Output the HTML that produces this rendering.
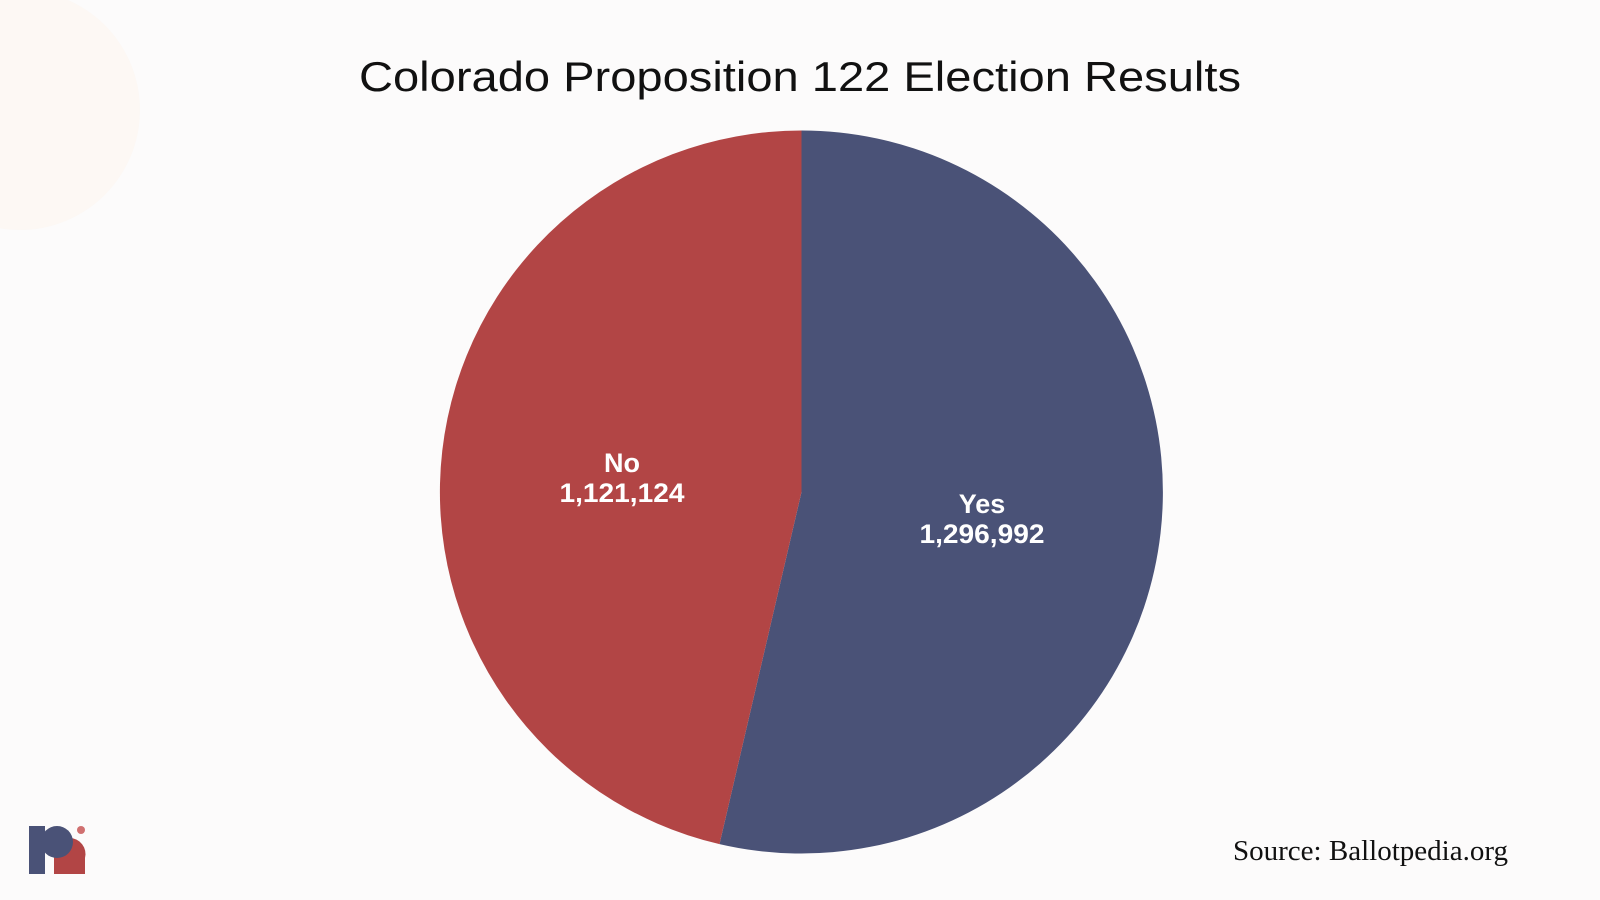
<!DOCTYPE html>
<html><head><meta charset="utf-8"><style>
html,body{margin:0;padding:0}
body{width:1600px;height:900px;background:#fcfbfb;overflow:hidden;position:relative}
</style></head><body>
<svg width="1600" height="900" viewBox="0 0 1600 900" xmlns="http://www.w3.org/2000/svg" style="position:absolute;left:0;top:0">
<rect width="1600" height="900" fill="#fcfbfb"/>
<circle cx="20" cy="110" r="120" fill="#fdf6ee" opacity="0.5"/>
<text x="800" y="91" text-anchor="middle" font-family="Liberation Sans, sans-serif" font-size="42" fill="#111" textLength="882" lengthAdjust="spacingAndGlyphs">Colorado Proposition 122 Election Results</text>
<path d="M801.5,492 L801.5,130.5 A361.5,361.5 0 1 1 719.5,844.1 Z" fill="#4a5277"/>
<path d="M801.5,492 L719.5,844.1 A361.5,361.5 0 0 1 801.5,130.5 Z" fill="#b24545"/>
<g font-family="Liberation Sans, sans-serif" font-weight="bold" font-size="27" fill="#fff" text-anchor="middle">
<text x="622" y="472">No</text>
<text x="622" y="502" textLength="125" lengthAdjust="spacingAndGlyphs">1,121,124</text>
<text x="982" y="513">Yes</text>
<text x="982" y="543" textLength="125" lengthAdjust="spacingAndGlyphs">1,296,992</text>
</g>
<text x="1233" y="860" font-family="Liberation Serif, serif" font-size="28" fill="#111" textLength="275" lengthAdjust="spacingAndGlyphs">Source: Ballotpedia.org</text>
<rect x="29" y="826" width="16" height="48" fill="#4a5277"/>
<path d="M54,874 L85,874 L85,858 A16,16 0 1 0 54,858 Z" fill="#b24545"/>
<circle cx="57" cy="842" r="16" fill="#4a5277"/>
<circle cx="81" cy="830" r="4" fill="#d07070"/>
</svg>
</body></html>
